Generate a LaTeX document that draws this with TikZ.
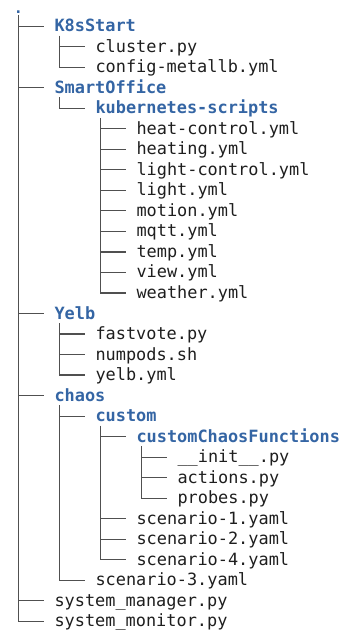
\documentclass[tikz,border=0pt]{standalone}
\usepackage{fontspec}
\setmonofont{DejaVu Sans Mono}
\definecolor{dirblue}{HTML}{3465A4}
\definecolor{txt}{HTML}{1E1E1E}
\definecolor{treeline}{HTML}{505050}
\newcommand\tnode[5]{% row, depth, name, style, text
  \node[#4] (#3) at ({13.5+41*#2}, {-(11.2+20.52*#1)}) {#5};
}
\newcommand\hconn[1]{%
  \draw[conn] ([xshift=-11pt,yshift=5.5pt]#1.base west) -- ++(-25.5pt,0);
}
\newcommand\vconn[3]{% parent, last child, top offset
  \draw[conn] ([xshift=4.8pt,yshift=-#3pt]#1.base west) -- ([xshift=-36.2pt,yshift=5.5pt]#2.base west);
}
\begin{document}
\begin{tikzpicture}[x=1pt,y=1pt,
  every node/.style={anchor=base west,inner sep=0pt,outer sep=0pt,font=\ttfamily\fontsize{16.9}{20}\selectfont},
  file/.style={text=txt},
  folder/.style={text=dirblue,font=\ttfamily\bfseries\fontsize{16.9}{20}\selectfont},
  rootdot/.style={anchor=base,text=dirblue,font=\ttfamily\bfseries\fontsize{15}{16}\selectfont},
  conn/.style={draw=treeline,line width=1.15pt}]
\useasboundingbox (0,0) rectangle (343,-631);
\node[rootdot] (root) at (18.3,-13.8) {.};
\tnode{1}{1}{k8s}{folder}{K8sStart}
\tnode{2}{2}{cluster}{file}{cluster.py}
\tnode{3}{2}{metallb}{file}{config-metallb.yml}
\tnode{4}{1}{smart}{folder}{SmartOffice}
\tnode{5}{2}{kube}{folder}{kubernetes-scripts}
\tnode{6}{3}{heatc}{file}{heat-control.yml}
\tnode{7}{3}{heating}{file}{heating.yml}
\tnode{8}{3}{lightc}{file}{light-control.yml}
\tnode{9}{3}{light}{file}{light.yml}
\tnode{10}{3}{motion}{file}{motion.yml}
\tnode{11}{3}{mqtt}{file}{mqtt.yml}
\tnode{12}{3}{temp}{file}{temp.yml}
\tnode{13}{3}{view}{file}{view.yml}
\tnode{14}{3}{weather}{file}{weather.yml}
\tnode{15}{1}{yelb}{folder}{Yelb}
\tnode{16}{2}{fastvote}{file}{fastvote.py}
\tnode{17}{2}{numpods}{file}{numpods.sh}
\tnode{18}{2}{yelbyml}{file}{yelb.yml}
\tnode{19}{1}{chaos}{folder}{chaos}
\tnode{20}{2}{custom}{folder}{custom}
\tnode{21}{3}{ccf}{folder}{customChaosFunctions}
\tnode{22}{4}{init}{file}{\_\_init\_\_.py}
\tnode{23}{4}{actions}{file}{actions.py}
\tnode{24}{4}{probes}{file}{probes.py}
\tnode{25}{3}{sca}{file}{scenario-1.yaml}
\tnode{26}{3}{scb}{file}{scenario-2.yaml}
\tnode{27}{3}{scd}{file}{scenario-4.yaml}
\tnode{28}{2}{scc}{file}{scenario-3.yaml}
\tnode{29}{1}{sysman}{file}{system\_manager.py}
\tnode{30}{1}{sysmon}{file}{system\_monitor.py}
% vertical lines
\draw[conn] ([yshift=-1.5pt]root.base) -- ([xshift=-36.2pt,yshift=5.5pt]sysmon.base west);
\vconn{k8s}{metallb}{4}
\vconn{smart}{kube}{4}
\vconn{kube}{weather}{4}
\vconn{yelb}{yelbyml}{4}
\vconn{chaos}{scc}{4}
\vconn{custom}{scd}{4}
\vconn{ccf}{probes}{4}
% horizontal connectors
\foreach \n in {k8s,cluster,metallb,smart,kube,heatc,heating,lightc,light,motion,mqtt,temp,view,weather,yelb,fastvote,numpods,yelbyml,chaos,custom,ccf,init,actions,probes,sca,scb,scd,scc,sysman,sysmon}{\hconn{\n}}
\end{tikzpicture}
\end{document}
